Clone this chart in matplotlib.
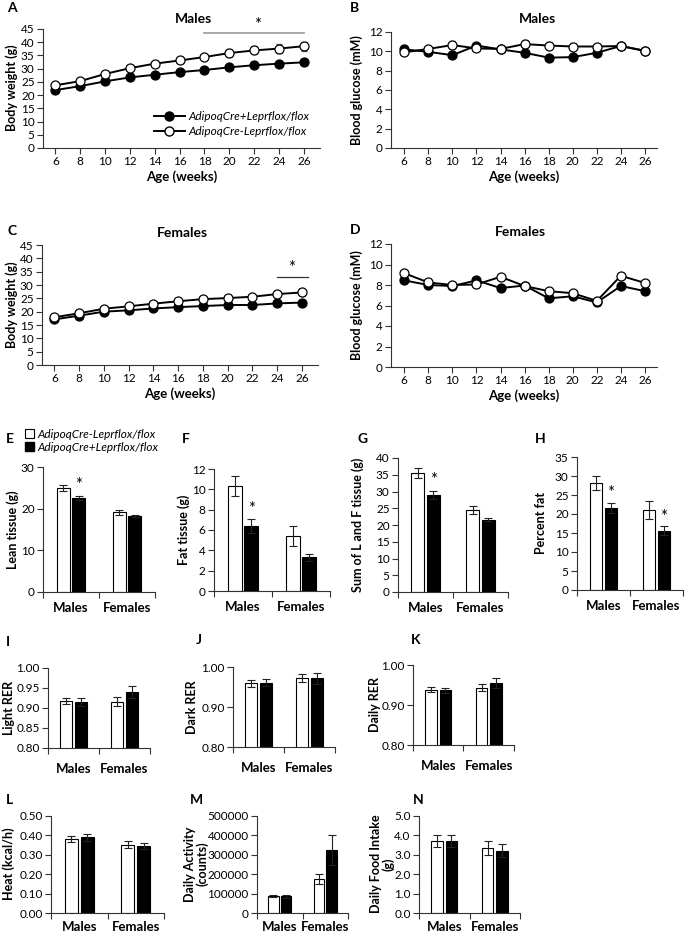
import numpy as np
import matplotlib.pyplot as plt
from matplotlib.lines import Line2D
from matplotlib.patches import Patch
from matplotlib.ticker import FormatStrFormatter

plt.rcParams['font.family'] = ['Lato', 'DejaVu Sans']
plt.rcParams['axes.linewidth'] = 0.8
plt.rcParams['axes.edgecolor'] = '#333333'

W, H = 685, 939

# ---- data: time courses (A-D) ----
weeks = [6, 8, 10, 12, 14, 16, 18, 20, 22, 24, 26]

# A: males body weight (g)
a_cre = [21.9, 23.4, 25.2, 26.7, 27.7, 28.7, 29.5, 30.5, 31.3, 31.9, 32.4]
a_cre_err = [0.5, 0.5, 0.6, 0.6, 0.6, 0.7, 0.7, 0.8, 0.8, 0.8, 0.9]
a_ctl = [23.7, 25.3, 28.0, 30.2, 31.9, 33.1, 34.4, 35.9, 36.9, 37.6, 38.5]
a_ctl_err = [0.6, 0.7, 0.8, 0.9, 1.0, 1.1, 1.3, 1.4, 1.5, 1.6, 1.7]

# B: males blood glucose (mM)
b_cre = [10.2, 9.95, 9.6, 10.6, 10.2, 9.85, 9.35, 9.4, 9.85, 10.55, 10.05]
b_cre_err = [0.5, 0.2, 0.3, 0.3, 0.3, 0.3, 0.3, 0.3, 0.3, 0.2, 0.2]
b_ctl = [9.9, 10.25, 10.65, 10.3, 10.25, 10.75, 10.6, 10.5, 10.5, 10.55, 10.05]
b_ctl_err = [0.3, 0.2, 0.4, 0.3, 0.3, 0.4, 0.4, 0.4, 0.3, 0.3, 0.3]

# C: females body weight (g)
c_cre = [17.1, 18.5, 20.0, 20.5, 21.2, 21.7, 22.1, 22.5, 22.5, 23.1, 23.4]
c_cre_err = [0.3, 0.3, 0.4, 0.4, 0.4, 0.4, 0.4, 0.5, 0.5, 0.5, 0.5]
c_ctl = [17.9, 19.4, 21.1, 22.0, 23.0, 23.9, 24.7, 25.1, 25.6, 26.6, 27.2]
c_ctl_err = [0.4, 0.5, 0.5, 0.6, 0.6, 0.7, 0.8, 0.9, 1.0, 1.1, 1.2]

# D: females blood glucose (mM)
d_cre = [8.45, 8.0, 7.9, 8.45, 7.7, 7.95, 6.7, 6.9, 6.3, 7.9, 7.4]
d_cre_err = [0.3, 0.2, 0.3, 0.2, 0.3, 0.2, 0.2, 0.2, 0.2, 0.3, 0.2]
d_ctl = [9.15, 8.25, 8.0, 8.05, 8.8, 7.9, 7.4, 7.2, 6.45, 8.9, 8.2]
d_ctl_err = [0.3, 0.2, 0.2, 0.3, 0.2, 0.2, 0.2, 0.2, 0.2, 0.3, 0.2]

# ---- data: bar panels (E-N), order = [Males, Females] ----
groups = ['Males', 'Females']
ctl_label = 'AdipoqCre-Leprflox/flox'
cre_label = 'AdipoqCre+Leprflox/flox'

e_ctl, e_ctl_err = [25.0, 19.2], [0.8, 0.6]
e_cre, e_cre_err = [22.6, 18.2], [0.5, 0.3]
f_ctl, f_ctl_err = [10.3, 5.4], [1.0, 1.0]
f_cre, f_cre_err = [6.4, 3.3], [0.7, 0.3]
g_ctl, g_ctl_err = [35.4, 24.5], [1.5, 1.3]
g_cre, g_cre_err = [29.0, 21.6], [1.2, 0.4]
h_ctl, h_ctl_err = [28.1, 21.0], [1.8, 2.3]
h_cre, h_cre_err = [21.6, 15.6], [1.3, 1.2]
i_ctl, i_ctl_err = [0.917, 0.916], [0.007, 0.012]
i_cre, i_cre_err = [0.915, 0.940], [0.009, 0.016]
j_ctl, j_ctl_err = [0.959, 0.972], [0.008, 0.010]
j_cre, j_cre_err = [0.961, 0.972], [0.009, 0.014]
k_ctl, k_ctl_err = [0.938, 0.943], [0.006, 0.009]
k_cre, k_cre_err = [0.937, 0.955], [0.006, 0.012]
l_ctl, l_ctl_err = [0.382, 0.353], [0.017, 0.018]
l_cre, l_cre_err = [0.390, 0.347], [0.017, 0.016]
m_ctl, m_ctl_err = [87000, 175000], [5000, 27000]
m_cre, m_cre_err = [86000, 325000], [8000, 78000]
n_ctl, n_ctl_err = [3.70, 3.33], [0.30, 0.36]
n_cre, n_cre_err = [3.70, 3.22], [0.32, 0.33]

fig = plt.figure(figsize=(W / 100, H / 100), dpi=100)


def px_axes(l, t, r, b):
    return fig.add_axes([l / W, 1 - b / H, (r - l) / W, (b - t) / H])


def style(ax):
    for s in ['top', 'right']:
        ax.spines[s].set_visible(False)
    ax.tick_params(direction='out', length=4, width=0.8, labelsize=8.5, pad=2,
                   colors='#333333', labelcolor='black')


def fig_text(x, y, s, **kw):
    return fig.text(x / W, 1 - y / H, s, **kw)


def line_panel(box, xlim, ylim, yticks, ctl, ctl_err, cre, cre_err):
    ax = px_axes(*box)
    style(ax)
    kw = dict(color='black', marker='o', ms=6.5, lw=1.4, capsize=2.5,
              elinewidth=0.8, ecolor='#555555', mec='black', mew=0.9)
    ax.errorbar(weeks, cre, yerr=cre_err, mfc='black', **kw)
    ax.errorbar(weeks, ctl, yerr=ctl_err, mfc='white', **kw)
    ax.set_xlim(*xlim)
    ax.set_ylim(*ylim)
    ax.set_xticks(weeks)
    ax.set_yticks(yticks)
    ax.set_xlabel('Age (weeks)', fontweight='bold', fontsize=9.5, labelpad=2)
    return ax


def bar_panel(box, ylim, yticks, ctl, ctl_err, cre, cre_err, fmt='%d', lab_pad=7):
    ax = px_axes(*box)
    style(ax)
    x = np.arange(len(groups))
    w, off = 0.23, 0.14
    ekw = dict(elinewidth=0.8, capthick=0.8, ecolor='#222222')
    ax.bar(x - off, ctl, w, yerr=ctl_err, color='white', edgecolor='black',
           lw=0.8, capsize=3, error_kw=ekw)
    ax.bar(x + off, cre, w, yerr=cre_err, color='black', edgecolor='black',
           lw=0.8, capsize=3, error_kw=ekw)
    ax.set_xlim(-0.5, 1.5)
    ax.set_ylim(*ylim)
    ax.set_yticks(yticks)
    ax.yaxis.set_major_formatter(FormatStrFormatter(fmt))
    ax.set_xticks(x)
    ax.set_xticklabels(groups, fontweight='bold', fontsize=9.5)
    ax.tick_params(axis='x', which='major', length=0, pad=lab_pad)
    ax.set_xticks([-0.5, 0.5, 1.5], minor=True)
    ax.tick_params(axis='x', which='minor', length=4, width=0.8, direction='out',
                   colors='#333333')
    return ax


# ---- row 1 / row 2: time courses ----
axA = line_panel((43, 29, 320, 148), (5.0, 27.3), (0, 45), range(0, 46, 5),
                 a_ctl, a_ctl_err, a_cre, a_cre_err)
axB = line_panel((391, 32, 657, 148), (4.9, 27.0), (0, 12), range(0, 13, 2),
                 b_ctl, b_ctl_err, b_cre, b_cre_err)
axC = line_panel((42, 245, 318, 365), (5.0, 27.3), (0, 45), range(0, 46, 5),
                 c_ctl, c_ctl_err, c_cre, c_cre_err)
axD = line_panel((391, 244, 657, 367), (4.9, 27.0), (0, 12), range(0, 13, 2),
                 d_ctl, d_ctl_err, d_cre, d_cre_err)

# significance bars
axA.plot([18, 26], [43.3, 43.3], color='#999999', lw=1.2, clip_on=False)
axA.text(22.3, 43.6, '*', ha='center', va='bottom', fontsize=12)
axC.plot([24, 26.5], [33, 33], color='#333333', lw=0.9, clip_on=False)
axC.text(25.2, 33.2, '*', ha='center', va='bottom', fontsize=12)

hA = [Line2D([0], [0], color='black', marker='o', ms=6.5, lw=1.4, mfc='black', mec='black'),
      Line2D([0], [0], color='black', marker='o', ms=6.5, lw=1.4, mfc='white', mec='black')]
axA.legend(hA, [cre_label, ctl_label], loc='lower right', bbox_to_anchor=(1.0, 0.0),
           frameon=False, prop={'style': 'italic', 'size': 8.5}, handlelength=2.6,
           labelspacing=0.35, handletextpad=0.3)

# ---- row 3: body composition ----
axE = bar_panel((43, 467, 155, 592), (0, 30), [0, 10, 20, 30],
                e_ctl, e_ctl_err, e_cre, e_cre_err)
axF = bar_panel((214, 469, 330, 591), (0, 12), range(0, 13, 2),
                f_ctl, f_ctl_err, f_cre, f_cre_err)
axG = bar_panel((398, 458, 508, 592), (0, 40), range(0, 41, 5),
                g_ctl, g_ctl_err, g_cre, g_cre_err)
axH = bar_panel((577, 457, 683, 590), (0, 35), range(0, 36, 5),
                h_ctl, h_ctl_err, h_cre, h_cre_err)
axE.text(0.14, 23.8, '*', ha='center', va='bottom', fontsize=12)
axF.text(0.14, 7.3, '*', ha='center', va='bottom', fontsize=12)
axG.text(0.14, 30.9, '*', ha='center', va='bottom', fontsize=12)
axH.text(0.14, 23.3, '*', ha='center', va='bottom', fontsize=12)
axH.text(1.14, 17.1, '*', ha='center', va='bottom', fontsize=12)

fig.legend([Patch(facecolor='white', edgecolor='black', lw=0.8),
            Patch(facecolor='black', edgecolor='black')],
           [ctl_label, cre_label], loc='upper left',
           bbox_to_anchor=(20 / W, 1 - 424 / H), frameon=False,
           prop={'style': 'italic', 'size': 8.5}, handlelength=0.8, handleheight=0.8,
           handletextpad=0.3, labelspacing=0.2, borderaxespad=0)

# ---- row 4: RER ----
axI = bar_panel((48, 668, 150, 748), (0.80, 1.00), [0.80, 0.85, 0.90, 0.95, 1.00],
                i_ctl, i_ctl_err, i_cre, i_cre_err, fmt='%.2f', lab_pad=11)
axJ = bar_panel((233, 667, 335, 747), (0.80, 1.00), [0.80, 0.90, 1.00],
                j_ctl, j_ctl_err, j_cre, j_cre_err, fmt='%.2f', lab_pad=11)
axK = bar_panel((413, 665, 514, 745), (0.80, 1.00), [0.80, 0.90, 1.00],
                k_ctl, k_ctl_err, k_cre, k_cre_err, fmt='%.2f', lab_pad=11)

# ---- row 5: energy balance ----
axL = bar_panel((51, 816, 164, 913), (0, 0.5), np.arange(0, 0.51, 0.1),
                l_ctl, l_ctl_err, l_cre, l_cre_err, fmt='%.2f', lab_pad=6)
axM = bar_panel((257, 816, 348, 913), (0, 500000), range(0, 500001, 100000),
                m_ctl, m_ctl_err, m_cre, m_cre_err, fmt='%d', lab_pad=6)
axN = bar_panel((419, 816, 520, 913), (0, 5), np.arange(0, 5.01, 1.0),
                n_ctl, n_ctl_err, n_cre, n_cre_err, fmt='%.1f', lab_pad=6)

# ---- titles, y labels, panel letters ----
tkw = dict(fontweight='bold', fontsize=10, ha='center', va='center')
fig_text(193, 19, 'Males', **tkw)
fig_text(537, 19, 'Males', **tkw)
fig_text(182, 233, 'Females', **tkw)
fig_text(520, 232, 'Females', **tkw)

ykw = dict(fontweight='bold', fontsize=9, ha='center', va='center', rotation=90)
ylabels = [(12, 88, 'Body weight (g)'), (357, 90, 'Blood glucose (mM)'),
           (12, 305, 'Body weight (g)'), (357, 305, 'Blood glucose (mM)'),
           (13, 530, 'Lean tissue (g)'), (184, 530, 'Fat tissue (g)'),
           (358, 525, 'Sum of L and F tissue (g)'), (541, 523, 'Percent fat'),
           (9, 708, 'Light RER'), (192, 707, 'Dark RER'), (375, 705, 'Daily RER'),
           (9, 864, 'Heat (kcal/h)'), (196, 864, 'Daily Activity\n(counts)'),
           (382, 864, 'Daily Food Intake\n(g)')]
for x, y, s in ylabels:
    fig_text(x, y, s, linespacing=1.0, **ykw)

lkw = dict(fontweight='bold', fontsize=10, ha='left', va='center')
for x, y, s in [(7, 8, 'A'), (350, 8, 'B'), (7, 231, 'C'), (350, 230, 'D'),
                (6, 439, 'E'), (182, 439, 'F'), (357, 439, 'G'), (535, 439, 'H'),
                (6, 642, 'I'), (196, 640, 'J'), (411, 640, 'K'),
                (6, 800, 'L'), (190, 800, 'M'), (413, 800, 'N')]:
    fig_text(x, y, s, **lkw)

fig.savefig('out.png', dpi=100)
